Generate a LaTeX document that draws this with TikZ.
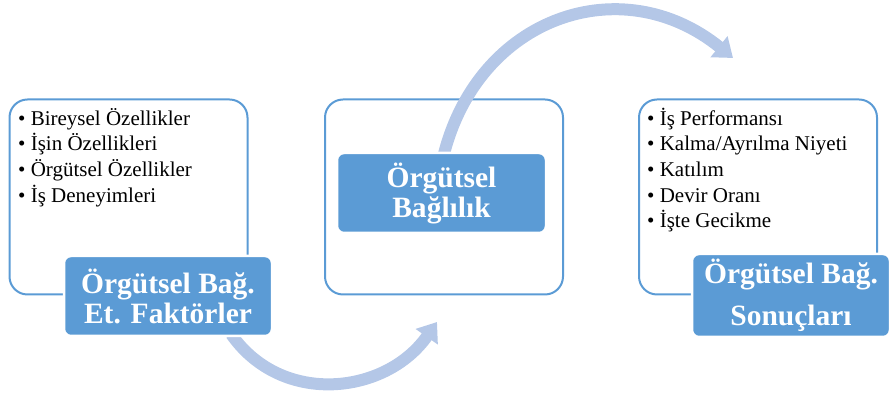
\documentclass[tikz,border=0pt]{standalone}
\usepackage{fontspec}
\setmainfont{Liberation Serif}
\usetikzlibrary{arrows.meta,backgrounds}
\definecolor{boxblue}{RGB}{91,155,213}
\definecolor{flowblue}{RGB}{180,199,231}
\tikzset{
  outerbox/.style={draw=boxblue, line width=2pt, rounded corners=18pt,
    minimum width=238pt, minimum height=195pt},
  headbox/.style={fill=boxblue, draw=white, line width=2.5pt, rounded corners=7pt,
    text=white, font=\fontsize{29.5}{30}\selectfont\bfseries, align=center, inner sep=0pt},
  itemlist/.style={anchor=north west, align=left, inner sep=0pt,
    font=\fontsize{21}{25.7}\selectfont},
  flow/.style={draw=flowblue, line width=12pt, -{Triangle[width=26pt,length=18pt]}},
}

\begin{document}
\begin{tikzpicture}[x=1pt,y=1pt]
    \useasboundingbox (0,0) rectangle (893,395);
    \coordinate (tip1) at (437,73);
    \coordinate (tip2) at (733,337);
    \node[headbox, minimum width=208pt, minimum height=80pt] (fac) at (168,99) {Örgütsel Bağ.\\Et. Faktörler};
    \node[headbox, minimum width=209pt, minimum height=80pt] (bag) at (441.5,202) {Örgütsel\\Bağlılık};
    \node[headbox, minimum width=198pt, minimum height=83pt] (son) at (791,99.5) {Örgütsel Bağ.\\[12pt]Sonuçları};
    \node[itemlist] (facitems) at (18,288) {\strut• Bireysel Özellikler\\• İşin Özellikleri\\• Örgütsel Özellikler\\• İş Deneyimleri};
    \node[itemlist] (sonitems) at (647,288) {\strut• İş Performansı\\• Kalma/Ayrılma Niyeti\\• Katılım\\• Devir Oranı\\• İşte Gecikme};
    \begin{scope}[on background layer]
        \node[outerbox] (facframe) at (128.5,198) {};
        \node[outerbox] (bagframe) at (444,198) {};
        \node[outerbox] (sonframe) at (758,198) {};
        \draw[flow] ([xshift=-42pt,yshift=3pt]fac.south east) to[out=-55,in=235,looseness=1.1] (tip1);
        \draw[flow] ([xshift=2pt,yshift=-4pt]bag.north) to[out=76,in=141,looseness=1.2] (tip2);
    \end{scope}
\end{tikzpicture}
\end{document}
